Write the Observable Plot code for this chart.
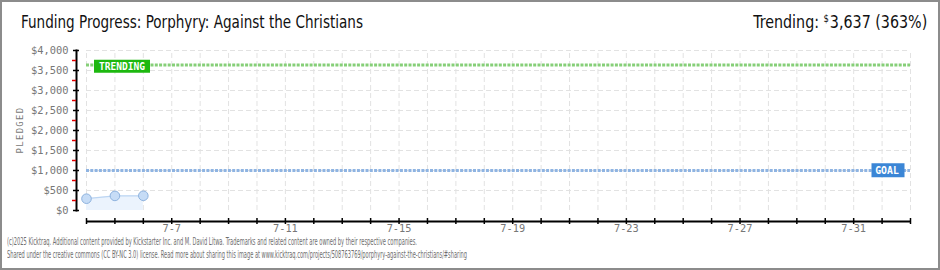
<!DOCTYPE html>
<html><head><meta charset="utf-8">
<script src="https://cdn.jsdelivr.net/npm/d3@7"></script>
<script src="https://cdn.jsdelivr.net/npm/@observablehq/plot@0.6"></script>
<style>
body{margin:0;background:#fff;}
#wrap{position:relative;width:940px;height:270px;overflow:hidden;background:#fff;}
#border{position:absolute;left:0;top:0;width:940px;height:270px;box-sizing:border-box;border:2px solid #8c8c8c;pointer-events:none;}
#title{position:absolute;left:21px;top:12px;font:17px "Liberation Sans Narrow","DejaVu Sans Condensed",sans-serif;color:#111;white-space:nowrap;transform-origin:left center;}
#trend{position:absolute;right:13px;top:12px;font:17px "Liberation Sans Narrow","DejaVu Sans Condensed",sans-serif;color:#111;white-space:nowrap;transform-origin:right center;}
#trend sup{font-size:10px;vertical-align:6px;margin-right:1px;}
#chart{position:absolute;left:0;top:35px;}
#ylab{position:absolute;left:20px;top:130px;font:9px "DejaVu Sans Mono",monospace;letter-spacing:1.3px;color:#777;transform:translate(-50%,-50%) rotate(-90deg);white-space:nowrap;}
.foot{position:absolute;left:7px;font-family:"Liberation Sans Narrow","DejaVu Sans Condensed",sans-serif;font-size:11px;line-height:12px;height:12px;color:#6e6e6e;white-space:nowrap;transform-origin:left center;}
</style></head>
<body>
<div id="wrap">
  <div id="title">Funding Progress: Porphyry: Against the Christians</div>
  <div id="trend">Trending: <sup>$</sup>3,637 (363%)</div>
  <div id="chart"></div>
  <div id="ylab">PLEDGED</div>
  <div class="foot" id="f1" style="top:236px">(c)2025 Kicktraq. Additional content provided by Kickstarter Inc. and M. David Litwa. Trademarks and related content are owned by their respective companies.</div>
  <div class="foot" id="f2" style="top:249px">Shared under the creative commons (CC BY-NC 3.0) license. Read more about sharing this image at www.kicktraq.com/projects/508763769/porphyry-against-the-christians/#sharing</div>
  <div id="border"></div>
</div>
<script>
// ---- data ----
const dates = ["2025-07-04", "2025-07-05", "2025-07-06"];
const pledged = [295, 365, 368];
const goal = 1000;
const trending = 3637;
const xDomain = ["2025-07-04", "2025-08-02"];
const xTickLabels = ["7-7", "7-11", "7-15", "7-19", "7-23", "7-27", "7-31"];
const yTicks = [0, 500, 1000, 1500, 2000, 2500, 3000, 3500, 4000];
const yMinorTicks = [250, 750, 1250, 1750, 2250, 2750, 3250, 3750];

const parse = d3.utcParse("%Y-%m-%d");
const data = dates.map((d, i) => ({date: parse(d), pledged: pledged[i]}));
const x0 = parse(xDomain[0]), x1 = parse(xDomain[1]);
const days = d3.utcDay.range(x0, d3.utcDay.offset(x1, 1));
const labelDates = xTickLabels.map(s => { const [m, d] = s.split("-").map(Number); return new Date(Date.UTC(2025, m - 1, d)); });
const labelMap = new Map(labelDates.map((d, i) => [+d, xTickLabels[i]]));
const mono = "'DejaVu Sans Mono', monospace";

const boxSymbol = (w, h) => ({draw(ctx) { ctx.rect(-w / 2, -h / 2, w, h); }});

const chart = Plot.plot({
  width: 940, height: 200,
  marginTop: 15, marginBottom: 25, marginLeft: 76, marginRight: 30,
  x: {type: "utc", domain: [x0, x1], insetLeft: 10, label: null},
  y: {domain: [0, 4000], label: null},
  style: {background: "transparent", fontFamily: mono, fontSize: "10px", color: "#777", overflow: "visible"},
  marks: [
    Plot.ruleX(days, {y1: 0, y2: 4000, stroke: "#e2e2e2", strokeDasharray: "5,3"}),
    Plot.ruleY(yTicks.slice(1), {x1: x0, x2: x1, stroke: "#e2e2e2", strokeDasharray: "5,3"}),
    Plot.areaY(data, {x: "date", y: "pledged", fill: "#ebf3fd"}),
    Plot.lineY(data, {x: "date", y: "pledged", stroke: "#bcd5f2", strokeWidth: 1.2}),
    Plot.ruleY([trending], {x1: x0, x2: x1, stroke: "#86cf78", strokeWidth: 3, strokeDasharray: "3,1.3"}),
    Plot.ruleY([goal], {x1: x0, x2: x1, stroke: "#8fb4e2", strokeWidth: 3, strokeDasharray: "3,1.3"}),
    Plot.dot(data, {x: "date", y: "pledged", r: 4.8, fill: "#c6dcf6", stroke: "#8db2de", strokeWidth: 1}),
    // y axis
    Plot.frame({anchor: "left", stroke: "#000", strokeWidth: 2}),
    Plot.axisY({ticks: yMinorTicks, tickSize: 4, stroke: "#e00000", strokeWidth: 1.5, text: null, tickPadding: 0, label: null}),
    Plot.axisY({ticks: yTicks, tickSize: 6, dx: 3, tickPadding: 5, stroke: "#000", strokeWidth: 1.5,
      tickFormat: d => "$" + d3.format(",")(d), fill: "#777", fontFamily: mono, fontSize: 10.4, label: null}),
    // x axis
    Plot.ruleY([0], {x1: x0, x2: x1, dy: 11, stroke: "#000", strokeWidth: 2}),
    Plot.axisX({ticks: days, tickSize: 6, dy: 8, text: null, stroke: "#000", strokeWidth: 1.5, label: null}),
    Plot.axisX({ticks: labelDates, tickSize: 0, tickPadding: 3, dy: 11, tickFormat: d => labelMap.get(+d),
      fill: "#777", fontFamily: mono, fontSize: 10.3, label: null}),
    // labels
    Plot.dot([trending], {x: () => x0, y: d => d, dx: 35.5, dy: 1.2, symbol: boxSymbol(56, 13), fill: "#1db80f", stroke: "none"}),
    Plot.text([trending], {x: () => x0, y: d => d, dx: 35.5, dy: 1.7, text: () => "TRENDING", fill: "#fff", fontFamily: mono, fontSize: 9.6, fontWeight: "bold", textAnchor: "middle"}),
    Plot.dot([goal], {x: () => x1, y: d => d, dx: -22.5, dy: -0.3, symbol: boxSymbol(33, 14), fill: "#3b86d6", stroke: "none"}),
    Plot.text([goal], {x: () => x1, y: d => d, dx: -23.5, dy: 0, text: () => "GOAL", fill: "#fff", fontFamily: mono, fontSize: 9.8, fontWeight: "bold", textAnchor: "middle"})
  ]
});
document.getElementById("chart").appendChild(chart);

function fit(id, w) {
  const el = document.getElementById(id);
  const r = el.getBoundingClientRect().width;
  el.style.transform = `scaleX(${w / r})`;
}
fit("title", 342);
fit("trend", 174);
fit("f1", 410);
fit("f2", 460);
</script>
</body></html>
